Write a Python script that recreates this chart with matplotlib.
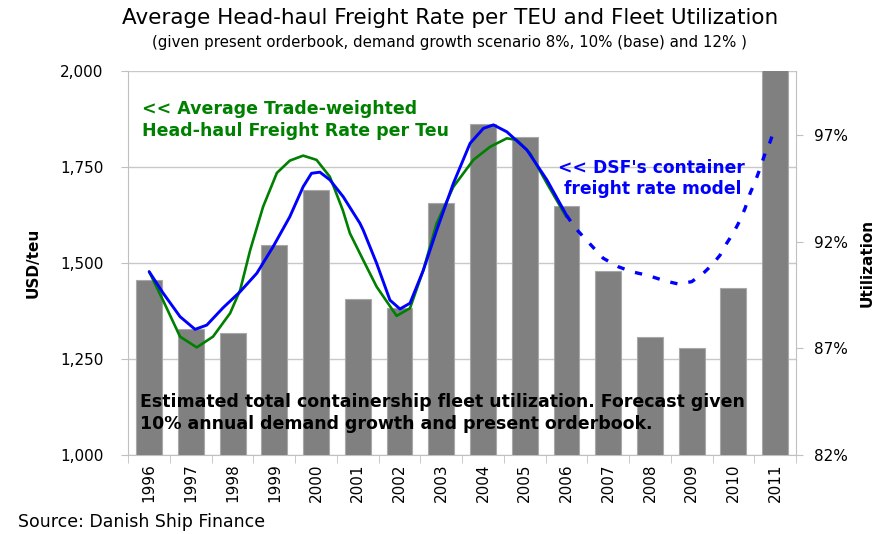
import matplotlib
matplotlib.use("Agg")
import matplotlib.pyplot as plt
from matplotlib.ticker import FixedLocator, FuncFormatter

# Fleet utilization per year (%), right axis
years = [1996, 1997, 1998, 1999, 2000, 2001, 2002, 2003,
         2004, 2005, 2006, 2007, 2008, 2009, 2010, 2011]
utilization = [90.2, 87.9, 87.7, 91.85, 94.4, 89.3, 88.9, 93.8,
               97.5, 96.9, 93.65, 90.6, 87.55, 87.0, 89.8, 100.1]

# Average trade-weighted head-haul freight rate (green), USD/teu
green_x = [1996.00, 1996.33, 1996.74, 1997.14, 1997.53, 1997.94, 1998.18, 1998.42,
           1998.73, 1999.06, 1999.37, 1999.69, 2000.01, 2000.33, 2000.64, 2000.81,
           2001.13, 2001.45, 2001.93, 2002.25, 2002.57, 2002.89, 2003.29, 2003.77,
           2004.17, 2004.57, 2004.81, 2005.13, 2005.53, 2006.00]
green_usd = [1477, 1403, 1308, 1280, 1308, 1369, 1429, 1533,
             1646, 1734, 1766, 1779, 1768, 1724, 1637, 1577,
             1507, 1438, 1362, 1382, 1481, 1603, 1698, 1768,
             1802, 1824, 1820, 1785, 1707, 1619]

# DSF container freight rate model (blue), fitted part
model_x = [1996.00, 1996.33, 1996.74, 1997.10, 1997.38, 1997.77, 1998.18, 1998.58,
           1998.97, 1999.37, 1999.69, 1999.89, 2000.09, 2000.33, 2000.65, 2001.05,
           2001.13, 2001.45, 2001.77, 2002.01, 2002.25, 2002.57, 2002.89, 2003.29,
           2003.69, 2004.01, 2004.25, 2004.57, 2005.05, 2005.53, 2006.00]
model_usd = [1477, 1422, 1360, 1327, 1338, 1383, 1425, 1473,
             1542, 1620, 1698, 1733, 1736, 1716, 1672, 1603,
             1585, 1499, 1403, 1380, 1395, 1481, 1585, 1707,
             1811, 1850, 1859, 1841, 1794, 1716, 1624]

# DSF model forecast (blue dashed)
forecast_x = [2006.00, 2006.20, 2006.48, 2006.88, 2007.24, 2007.56, 2007.96, 2008.36,
              2008.68, 2009.00, 2009.28, 2009.48, 2009.68, 2009.84, 2010.00, 2010.16,
              2010.28, 2010.40, 2010.52, 2010.64, 2010.76, 2010.88, 2011.00]
forecast_usd = [1624, 1592, 1559, 1512, 1490, 1477, 1467, 1453,
                1445, 1451, 1473, 1494, 1520, 1551, 1578, 1611,
                1642, 1681, 1711, 1746, 1785, 1815, 1854]

usd_ticks = [1000, 1250, 1500, 1750, 2000]
util_ticks = [82, 87, 92, 97]

W, H = 879, 534
grey = '#c0c0c0'

fig = plt.figure(figsize=(W / 100, H / 100), dpi=100)
pos = [128.3 / W, 1 - 455 / H, (796 - 128.3) / W, (455 - 70.7) / H]

# host axis: USD scale, gridlines
ax = fig.add_axes(pos)
ax.set_xlim(1995.5, 2011.5)
ax.set_ylim(1000, 2000)
ax.yaxis.set_major_locator(FixedLocator(usd_ticks))
ax.yaxis.set_major_formatter(FuncFormatter(lambda v, p: f'{v:,.0f}'))
ax.grid(axis='y', color='#c8c8c8', linewidth=1.0)
ax.set_axisbelow(True)
ax.set_xticks(years)
ax.set_xticklabels([str(y) for y in years], rotation=90, fontsize=11)
ax.set_xticks([y - 0.5 for y in years] + [2011.5], minor=True)
ax.tick_params(axis='x', which='major', length=0, pad=6)
ax.tick_params(axis='x', which='minor', length=6, color=grey, direction='out')
ax.tick_params(axis='y', length=5, color=grey, pad=13, labelsize=11)
for s in ['top', 'right']:
    ax.spines[s].set_visible(False)
for s in ['left', 'bottom']:
    ax.spines[s].set_color(grey)
ax.set_ylabel('USD/teu', fontsize=11, fontweight='bold', labelpad=14)

# bars: utilization on the right axis
ax2 = ax.twinx()
ax2.bar(years, utilization, width=0.62, color='#808080',
        edgecolor='#a8a8a8', linewidth=0.8)
ax2.set_ylim(82, 100)
ax2.yaxis.set_major_locator(FixedLocator(util_ticks))
ax2.yaxis.set_major_formatter(FuncFormatter(lambda v, p: f'{v:.0f}%'))
ax2.tick_params(axis='y', length=5, color=grey, pad=8, labelsize=11)
for s in ['top', 'left', 'bottom']:
    ax2.spines[s].set_visible(False)
ax2.spines['right'].set_color(grey)
ax2.set_ylabel('Utilization', fontsize=11, fontweight='bold', labelpad=8)

# lines overlay sharing the USD scale
axl = fig.add_axes(pos, sharex=ax, sharey=ax)
axl.set_axis_off()
axl.plot(green_x, green_usd, color='#008000', linewidth=1.9,
         solid_joinstyle='round', solid_capstyle='round')
axl.plot(model_x, model_usd, color='#0000ff', linewidth=2.1,
         solid_joinstyle='round', solid_capstyle='round')
axl.plot(forecast_x, forecast_usd, color='#0000ff', linewidth=2.4,
         linestyle=(0, (2.2, 3.3)))

# texts
fig.text(450 / W, 1 - 18 / H,
         'Average Head-haul Freight Rate per TEU and Fleet Utilization',
         ha='center', va='center', fontsize=15.5)
fig.text(450 / W, 1 - 42 / H,
         '(given present orderbook, demand growth scenario 8%, 10% (base) and 12% )',
         ha='center', va='center', fontsize=10.8)
fig.text(142 / W, 1 - 120 / H,
         '<< Average Trade-weighted\nHead-haul Freight Rate per Teu',
         ha='left', va='center', fontsize=12.5, fontweight='bold',
         color='#008000', linespacing=1.3)
fig.text(558 / W, 1 - 178.5 / H,
         "<< DSF's container\n freight rate model",
         ha='left', va='center', fontsize=12.3, fontweight='bold',
         color='#0000ff', linespacing=1.2)
fig.text(140 / W, 1 - 413 / H,
         'Estimated total containership fleet utilization. Forecast given\n'
         '10% annual demand growth and present orderbook.',
         ha='left', va='center', fontsize=12.5, fontweight='bold',
         color='black', linespacing=1.3)
fig.text(18 / W, 1 - 522 / H, 'Source: Danish Ship Finance',
         ha='left', va='center', fontsize=12.5)

fig.savefig('out.png', dpi=100)
